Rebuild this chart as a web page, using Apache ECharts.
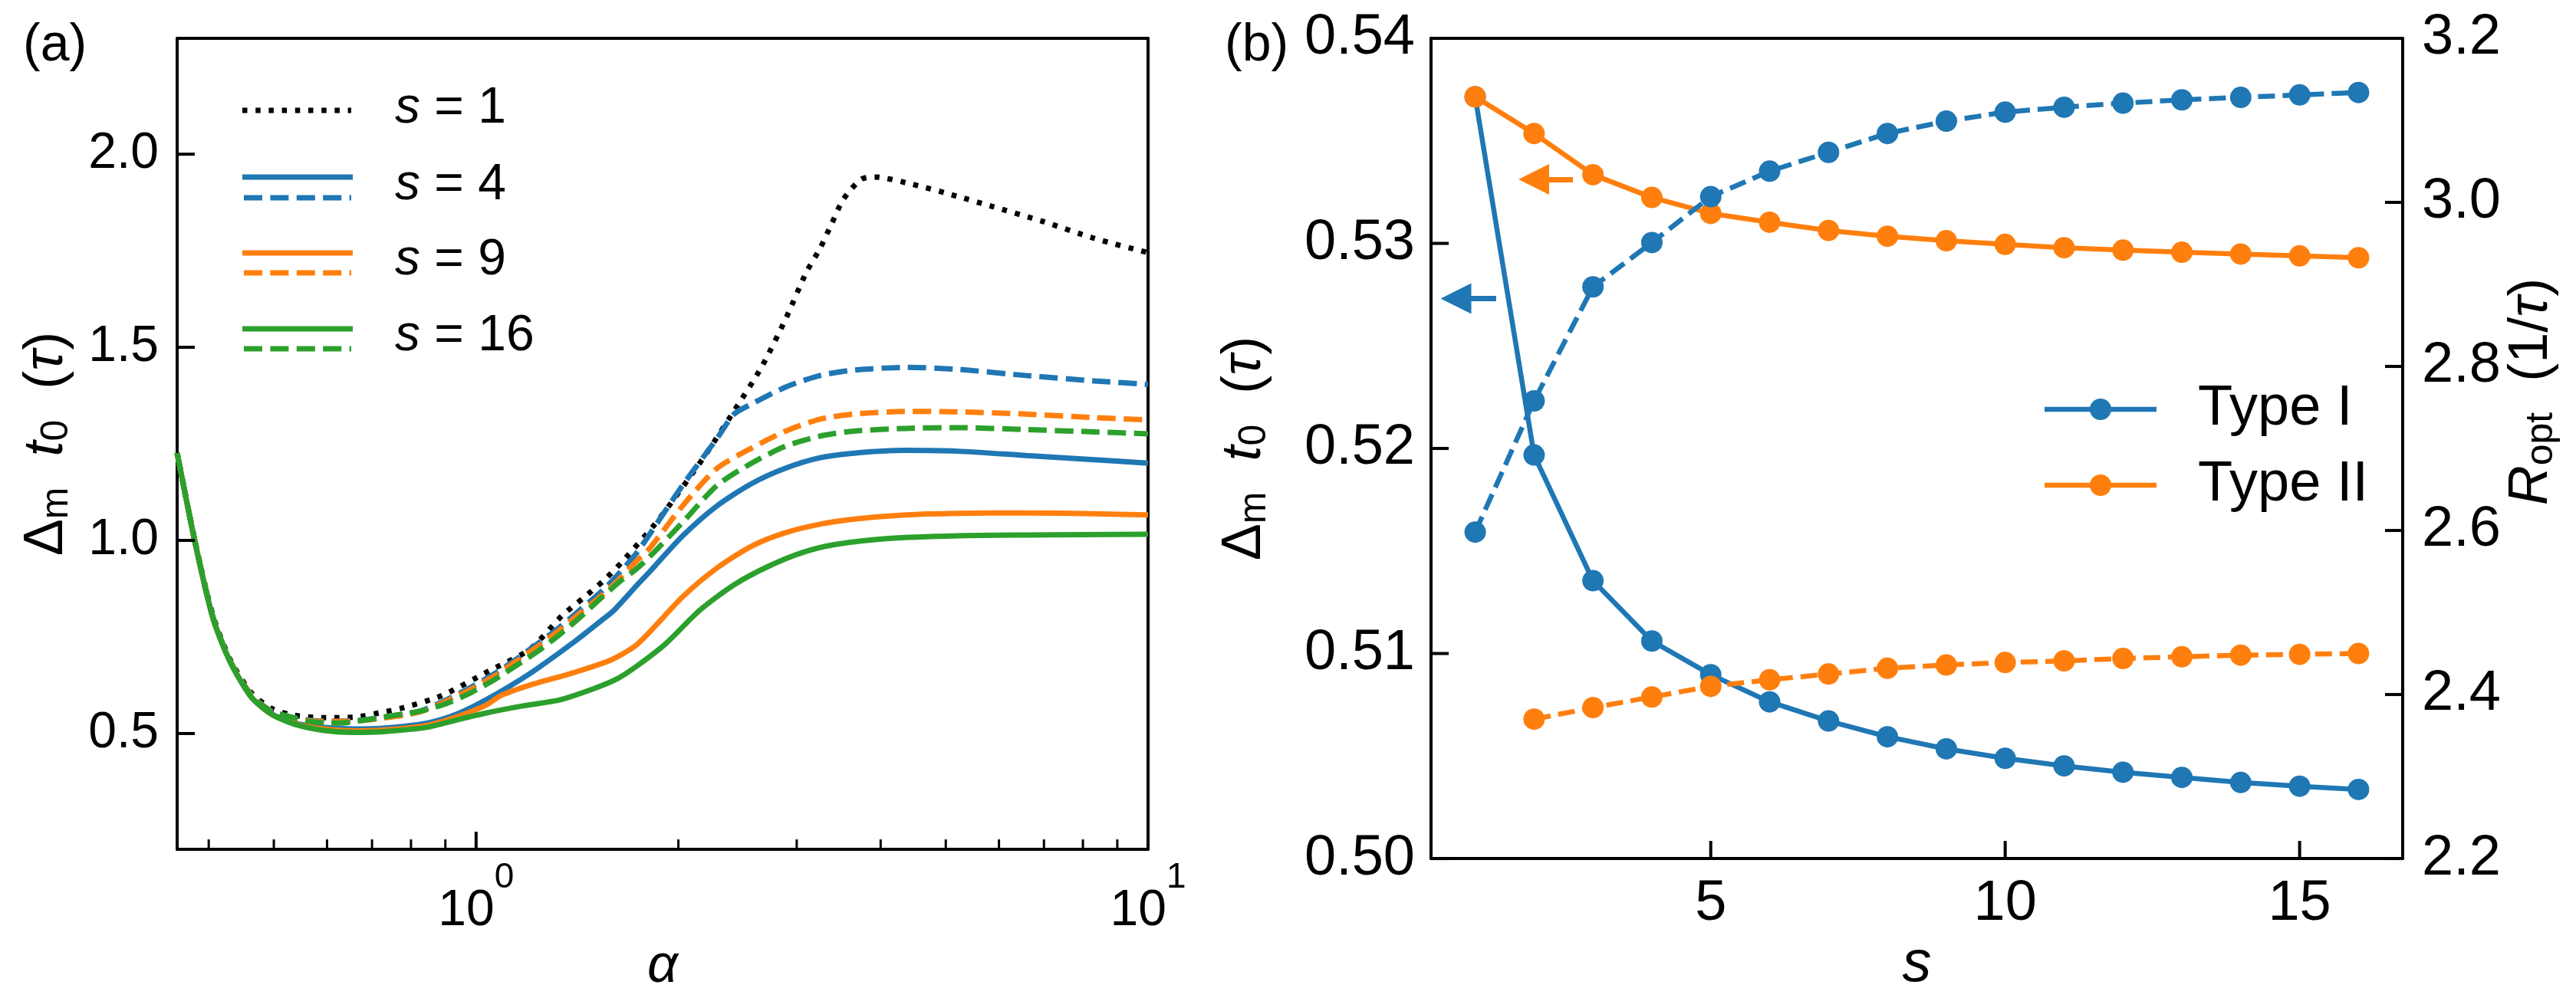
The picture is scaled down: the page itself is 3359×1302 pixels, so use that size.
<!DOCTYPE html>
<html>
<head>
<meta charset="utf-8">
<script src="https://cdn.jsdelivr.net/npm/echarts@6/dist/echarts.min.js"></script>
<style>
  html, body { margin: 0; padding: 0; background: #fff; }
  #main { width: 3359px; height: 1302px; }
</style>
</head>
<body>
<div id="main"></div>
<script>
// ---- panel (a): Delta_m t0 vs alpha (log x) ----
var s1Alpha = [0.359, 0.382, 0.406, 0.431, 0.463, 0.496, 0.537, 0.594, 0.657, 0.735, 0.773, 0.889, 1.045, 1.202, 1.342, 1.442, 1.548, 1.652, 1.871, 2.179, 2.42, 2.66, 2.888, 3.10, 3.25, 3.386, 3.52, 3.74, 3.92, 4.46, 5.20, 5.85, 6.97, 8.32, 10];
var s1Val = [1.226, 0.995, 0.805, 0.69, 0.605, 0.565, 0.547, 0.541, 0.542, 0.557, 0.565, 0.598, 0.662, 0.718, 0.805, 0.85, 0.896, 0.946, 1.055, 1.214, 1.335, 1.449, 1.573, 1.694, 1.756, 1.822, 1.883, 1.935, 1.941, 1.922, 1.891, 1.865, 1.826, 1.782, 1.745];

var s4Alpha = [0.359, 0.382, 0.406, 0.431, 0.463, 0.496, 0.537, 0.594, 0.657, 0.727, 0.845, 0.935, 1.034, 1.202, 1.399, 1.548, 1.606, 1.742, 1.806, 2.03, 2.285, 2.57, 2.888, 3.25, 3.65, 4.36, 5.2, 6.58, 8.32, 10];
var s4Val = [1.226, 0.992, 0.798, 0.684, 0.594, 0.551, 0.527, 0.516, 0.512, 0.514, 0.527, 0.550, 0.587, 0.655, 0.737, 0.797, 0.820, 0.887, 0.916, 1.012, 1.090, 1.147, 1.187, 1.214, 1.226, 1.233, 1.231, 1.220, 1.209, 1.200];

var s4dAlpha = [0.359, 0.382, 0.406, 0.431, 0.463, 0.496, 0.537, 0.594, 0.657, 0.727, 0.821, 0.898, 0.983, 1.066, 1.143, 1.24, 1.331, 1.428, 1.548, 1.627, 1.729, 1.806, 2.03, 2.285, 2.42, 2.57, 2.888, 3.25, 3.65, 4.36, 5.2, 6.58, 8.32, 10];
var s4dVal = [1.226, 0.993, 0.80, 0.686, 0.600, 0.558, 0.54, 0.532, 0.533, 0.542, 0.557, 0.585, 0.62, 0.655, 0.69, 0.735, 0.775, 0.82, 0.873, 0.912, 0.965, 1.012, 1.143, 1.265, 1.327, 1.353, 1.397, 1.427, 1.441, 1.448, 1.443, 1.427, 1.413, 1.404];

var s9Alpha = [0.359, 0.382, 0.406, 0.431, 0.463, 0.496, 0.537, 0.594, 0.657, 0.727, 0.845, 0.935, 1.034, 1.088, 1.202, 1.399, 1.595, 1.742, 2.03, 2.285, 2.57, 2.888, 3.25, 3.65, 4.36, 5.2, 6.58, 8.32, 10];
var s9Val = [1.226, 0.992, 0.798, 0.684, 0.594, 0.550, 0.525, 0.512, 0.507, 0.509, 0.521, 0.543, 0.573, 0.598, 0.625, 0.658, 0.692, 0.733, 0.854, 0.929, 0.985, 1.020, 1.042, 1.055, 1.066, 1.070, 1.071, 1.069, 1.066];

var s9dAlpha = [0.359, 0.382, 0.406, 0.431, 0.463, 0.496, 0.537, 0.594, 0.657, 0.727, 0.821, 0.898, 0.983, 1.066, 1.143, 1.24, 1.331, 1.428, 1.548, 1.627, 1.729, 1.806, 2.03, 2.285, 2.57, 2.888, 3.25, 3.65, 4.36, 5.2, 6.58, 8.32, 10];
var s9dVal = [1.226, 0.993, 0.80, 0.686, 0.600, 0.557, 0.538, 0.531, 0.532, 0.540, 0.555, 0.582, 0.615, 0.65, 0.685, 0.728, 0.768, 0.812, 0.862, 0.897, 0.945, 0.976, 1.090, 1.187, 1.239, 1.283, 1.314, 1.327, 1.334, 1.333, 1.327, 1.318, 1.312];

var s16Alpha = [0.359, 0.382, 0.406, 0.431, 0.463, 0.496, 0.537, 0.594, 0.657, 0.727, 0.845, 0.935, 1.034, 1.179, 1.331, 1.501, 1.627, 1.742, 1.916, 2.155, 2.42, 2.724, 3.065, 3.44, 4.11, 5.2, 6.58, 10];
var s16Val = [1.226, 0.992, 0.798, 0.684, 0.594, 0.550, 0.524, 0.508, 0.503, 0.505, 0.516, 0.535, 0.553, 0.572, 0.587, 0.617, 0.643, 0.677, 0.733, 0.820, 0.885, 0.933, 0.969, 0.990, 1.005, 1.012, 1.014, 1.016];

var s16dAlpha = [0.359, 0.382, 0.406, 0.431, 0.463, 0.496, 0.511, 0.565, 0.625, 0.684, 0.749, 0.821, 0.898, 0.983, 1.066, 1.143, 1.24, 1.331, 1.428, 1.515, 1.627, 1.729, 1.806, 2.03, 2.285, 2.57, 2.888, 3.25, 3.65, 4.36, 5.2, 6.58, 8.32, 10];
var s16dVal = [1.226, 0.993, 0.80, 0.686, 0.598, 0.556, 0.550, 0.531, 0.527, 0.535, 0.546, 0.557, 0.576, 0.606, 0.640, 0.674, 0.715, 0.756, 0.801, 0.842, 0.89, 0.925, 0.955, 1.047, 1.143, 1.200, 1.244, 1.270, 1.283, 1.290, 1.292, 1.287, 1.281, 1.276];

var aMajorTicks = [1, 10];
var aMinorTicks = [0.4, 0.5, 0.6, 0.7, 0.8, 0.9, 2, 3, 4, 5, 6, 7, 8, 9];
var aYTicks = [0.5, 1.0, 1.5, 2.0];

// ---- panel (b): vs s ----
var sVals = [1, 2, 3, 4, 5, 6, 7, 8, 9, 10, 11, 12, 13, 14, 15, 16];
var type1Delta = [0.53715, 0.51968, 0.51355, 0.51061, 0.50897, 0.50764, 0.50671, 0.50594, 0.50535, 0.50489, 0.50452, 0.50421, 0.50396, 0.50371, 0.50353, 0.50337];
var type2Delta = [0.53715, 0.53536, 0.53335, 0.53224, 0.53146, 0.53103, 0.53063, 0.53035, 0.53013, 0.52995, 0.52979, 0.52967, 0.52957, 0.52948, 0.52939, 0.52930];
var type1R = [2.598, 2.758, 2.897, 2.951, 3.007, 3.038, 3.061, 3.084, 3.099, 3.110, 3.116, 3.121, 3.125, 3.128, 3.131, 3.134];
var type2S = [2, 3, 4, 5, 6, 7, 8, 9, 10, 11, 12, 13, 14, 15, 16];
var type2R = [2.370, 2.384, 2.397, 2.410, 2.418, 2.425, 2.432, 2.436, 2.439, 2.441, 2.444, 2.446, 2.448, 2.449, 2.450];
var bXTicks = [5, 10, 15];
var bLeftTicks = [0.50, 0.51, 0.52, 0.53, 0.54];
var bRightTicks = [2.2, 2.4, 2.6, 2.8, 3.0, 3.2];

var BLUE = '#1f77b4', ORANGE = '#ff7f0e', GREEN = '#2ca02c', BLACK = '#000';
var FONT = 'Liberation Sans, Arial, sans-serif';
var DASH = [24, 10.4], DOT = [6.5, 10.7];
var MAJOR = 23, MINOR = 13;

function zip(xs, ys) {
  return xs.map(function (x, i) { return [x, ys[i]]; });
}

function curve(name, xs, ys, color, dash) {
  return {
    name: name, type: 'line', xAxisIndex: 0, yAxisIndex: 0,
    data: zip(xs, ys), showSymbol: false, smooth: 0.25,
    lineStyle: { color: color, width: 7, type: dash, cap: 'butt' }
  };
}

// inward ticks, placed through the axes' own scales
function tickSeries(xIdx, yIdx, data, side) {
  return {
    type: 'custom', xAxisIndex: xIdx, yAxisIndex: yIdx, silent: true, clip: false, z: 5,
    data: data,
    renderItem: function (params, api) {
      var p = api.coord([api.value(0), api.value(1)]);
      var len = api.value(2), dx = 0, dy = 0;
      if (side === 'bottom') dy = -len;
      else if (side === 'left') dx = len;
      else dx = -len;
      return {
        type: 'line',
        shape: { x1: p[0], y1: p[1], x2: p[0] + dx, y2: p[1] + dy },
        style: { stroke: BLACK, lineWidth: len === MAJOR ? 4 : 3 }
      };
    }
  };
}

var axisLine = { show: true, lineStyle: { color: BLACK, width: 4 } };
var noTick = { show: false };

function frameAxis(extra) {
  return Object.assign({
    axisLine: axisLine, axisTick: noTick, axisLabel: { show: false }, splitLine: { show: false }
  }, extra);
}

var nameRich = {
  d: { fontFamily: FONT, fontSize: 72, color: BLACK },
  n: { fontFamily: FONT, fontSize: 72, color: BLACK },
  t: { fontFamily: FONT, fontSize: 72, fontStyle: 'italic', color: BLACK },
  sub: { fontFamily: FONT, fontSize: 50, color: BLACK, padding: [26, 0, 0, 0] }
};

function legendText(label, y) {
  return {
    type: 'text', x: 515, y: y,
    style: {
      text: '{i|s} = ' + label, fontFamily: FONT, fontSize: 66, fill: BLACK, verticalAlign: 'middle',
      rich: { i: { fontFamily: FONT, fontSize: 66, fontStyle: 'italic' } }
    }
  };
}

var chart = echarts.init(document.getElementById('main'));

var option = {
  animation: false,
  backgroundColor: '#fff',
  grid: [
    { left: 231, top: 50, width: 1266, height: 1072 },
    { left: 1866, top: 50, width: 1267, height: 1074 }
  ],
  xAxis: [
    {
      type: 'log', gridIndex: 0, min: 0.359, max: 10, logBase: 10,
      name: '{i|α}', nameLocation: 'middle', nameGap: 78,
      nameTextStyle: { rich: { i: { fontFamily: FONT, fontSize: 70, fontStyle: 'italic', color: BLACK } } },
      axisLine: axisLine, splitLine: { show: false }, axisTick: noTick,
      axisLabel: {
        customValues: aMajorTicks, margin: 14,
        formatter: function (v) { return '{b|10}{e|' + Math.round(Math.log10(v)) + '}'; },
        rich: {
          b: { fontFamily: FONT, fontSize: 66, color: BLACK, verticalAlign: 'bottom', lineHeight: 100 },
          e: { fontFamily: FONT, fontSize: 46, color: BLACK, verticalAlign: 'top', lineHeight: 50 }
        }
      }
    },
    {
      type: 'value', gridIndex: 1, min: 0.25, max: 16.75,
      name: '{i|s}', nameLocation: 'middle', nameGap: 98,
      nameTextStyle: { rich: { i: { fontFamily: FONT, fontSize: 76, fontStyle: 'italic', color: BLACK } } },
      axisLine: axisLine, splitLine: { show: false }, axisTick: noTick,
      axisLabel: { customValues: bXTicks, margin: 22, fontFamily: FONT, fontSize: 74, color: BLACK }
    },
    frameAxis({ type: 'log', gridIndex: 0, position: 'top', min: 0.359, max: 10, logBase: 10 }),
    frameAxis({ type: 'value', gridIndex: 1, position: 'top', min: 0.25, max: 16.75 })
  ],
  yAxis: [
    {
      type: 'value', gridIndex: 0, min: 0.2, max: 2.3,
      name: '{d|Δ}{sub|m}{n|  }{t|t}{sub|0}{n|  (}{t|τ}{n|)}',
      nameLocation: 'middle', nameGap: 132, nameRotate: 90,
      nameTextStyle: { rich: nameRich },
      axisLine: axisLine, splitLine: { show: false }, axisTick: noTick,
      axisLabel: {
        customValues: aYTicks, margin: 24, fontFamily: FONT, fontSize: 66, color: BLACK,
        formatter: function (v) { return v.toFixed(1); }
      }
    },
    {
      type: 'value', gridIndex: 1, min: 0.50, max: 0.54, interval: 0.01,
      name: '{d|Δ}{sub|m}{n|  }{t|t}{sub|0}{n|  (}{t|τ}{n|)}',
      nameLocation: 'middle', nameGap: 205, nameRotate: 90,
      nameTextStyle: { rich: nameRich },
      axisLine: axisLine, splitLine: { show: false }, axisTick: noTick,
      axisLabel: {
        customValues: bLeftTicks, margin: 21, fontFamily: FONT, fontSize: 74, color: BLACK,
        formatter: function (v) { return v.toFixed(2); }
      }
    },
    {
      type: 'value', gridIndex: 1, position: 'right', min: 2.2, max: 3.2, interval: 0.2,
      name: '{r|R}{sub|opt}{n|  (1/}{t|τ}{n|)}',
      nameLocation: 'middle', nameGap: 52, nameRotate: 90,
      nameTextStyle: {
        padding: [0, 0, 0, 148],
        rich: {
          r: { fontFamily: FONT, fontSize: 72, fontStyle: 'italic', color: BLACK },
          n: nameRich.n, t: nameRich.t, sub: nameRich.sub
        }
      },
      axisLine: axisLine, splitLine: { show: false }, axisTick: noTick,
      axisLabel: {
        customValues: bRightTicks, margin: 25, fontFamily: FONT, fontSize: 74, color: BLACK,
        formatter: function (v) { return v.toFixed(1); }
      }
    },
    frameAxis({ type: 'value', gridIndex: 0, position: 'right', min: 0.2, max: 2.3 })
  ],
  series: [
    curve('s1', s1Alpha, s1Val, BLACK, DOT),
    curve('s4', s4Alpha, s4Val, BLUE, 'solid'),
    curve('s4d', s4dAlpha, s4dVal, BLUE, DASH),
    curve('s9', s9Alpha, s9Val, ORANGE, 'solid'),
    curve('s9d', s9dAlpha, s9dVal, ORANGE, DASH),
    curve('s16', s16Alpha, s16Val, GREEN, 'solid'),
    curve('s16d', s16dAlpha, s16dVal, GREEN, DASH),
    {
      name: 'Type I', type: 'line', xAxisIndex: 1, yAxisIndex: 1,
      data: zip(sVals, type1Delta), symbol: 'circle', symbolSize: 28,
      itemStyle: { color: BLUE }, lineStyle: { color: BLUE, width: 6.5 },
      markLine: {
        silent: true, symbol: ['none', 'triangle'], symbolSize: 40,
        label: { show: false },
        lineStyle: { color: BLUE, width: 7, type: 'solid' },
        data: [[{ coord: [1.357, 0.52731] }, { coord: [0.673, 0.52731] }]]
      }
    },
    {
      name: 'Type II', type: 'line', xAxisIndex: 1, yAxisIndex: 1,
      data: zip(sVals, type2Delta), symbol: 'circle', symbolSize: 28,
      itemStyle: { color: ORANGE }, lineStyle: { color: ORANGE, width: 6.5 },
      markLine: {
        silent: true, symbol: ['none', 'triangle'], symbolSize: 40,
        label: { show: false },
        lineStyle: { color: ORANGE, width: 7, type: 'solid' },
        data: [[{ coord: [2.66, 0.53312] }, { coord: [1.995, 0.53312] }]]
      }
    },
    {
      name: 'Type I R', type: 'line', xAxisIndex: 1, yAxisIndex: 2,
      data: zip(sVals, type1R), symbol: 'circle', symbolSize: 28,
      itemStyle: { color: BLUE }, lineStyle: { color: BLUE, width: 6.5, type: [22, 10], cap: 'butt' }
    },
    {
      name: 'Type II R', type: 'line', xAxisIndex: 1, yAxisIndex: 2,
      data: zip(type2S, type2R), symbol: 'circle', symbolSize: 28,
      itemStyle: { color: ORANGE }, lineStyle: { color: ORANGE, width: 6.5, type: [22, 10], cap: 'butt' }
    },
    // axis ticks (inward)
    tickSeries(0, 0, aMajorTicks.map(function (v) { return [v, 0.2, MAJOR]; })
      .concat(aMinorTicks.map(function (v) { return [v, 0.2, MINOR]; })), 'bottom'),
    tickSeries(0, 0, aYTicks.map(function (v) { return [0.359, v, MAJOR]; }), 'left'),
    tickSeries(1, 1, bXTicks.map(function (v) { return [v, 0.50, MAJOR]; }), 'bottom'),
    tickSeries(1, 1, bLeftTicks.map(function (v) { return [0.25, v, MAJOR]; }), 'left'),
    tickSeries(1, 2, bRightTicks.map(function (v) { return [16.75, v, MAJOR]; }), 'right')
  ],
  graphic: [
    { type: 'text', x: 30, y: 26, style: { text: '(a)', fontFamily: FONT, fontSize: 68, fill: BLACK } },
    { type: 'text', x: 1597, y: 26, style: { text: '(b)', fontFamily: FONT, fontSize: 68, fill: BLACK } },
    // legend of panel (a)
    { type: 'line', shape: { x1: 316, y1: 144, x2: 458, y2: 144 }, style: { stroke: BLACK, lineWidth: 7, lineDash: DOT } },
    legendText('1', 142),
    { type: 'line', shape: { x1: 316, y1: 231, x2: 460, y2: 231 }, style: { stroke: BLUE, lineWidth: 7 } },
    { type: 'line', shape: { x1: 318, y1: 258, x2: 458, y2: 258 }, style: { stroke: BLUE, lineWidth: 7, lineDash: DASH } },
    legendText('4', 242),
    { type: 'line', shape: { x1: 316, y1: 330, x2: 460, y2: 330 }, style: { stroke: ORANGE, lineWidth: 7 } },
    { type: 'line', shape: { x1: 318, y1: 356, x2: 458, y2: 356 }, style: { stroke: ORANGE, lineWidth: 7, lineDash: DASH } },
    legendText('9', 340),
    { type: 'line', shape: { x1: 316, y1: 429, x2: 460, y2: 429 }, style: { stroke: GREEN, lineWidth: 7 } },
    { type: 'line', shape: { x1: 318, y1: 455, x2: 458, y2: 455 }, style: { stroke: GREEN, lineWidth: 7, lineDash: DASH } },
    legendText('16', 439),
    // legend of panel (b)
    { type: 'line', shape: { x1: 2666, y1: 534, x2: 2812, y2: 534 }, style: { stroke: BLUE, lineWidth: 6.5 } },
    { type: 'circle', shape: { cx: 2739, cy: 534, r: 14 }, style: { fill: BLUE } },
    { type: 'text', x: 2866, y: 534, style: { text: 'Type I', fontFamily: FONT, fontSize: 74, fill: BLACK, verticalAlign: 'middle' } },
    { type: 'line', shape: { x1: 2666, y1: 633, x2: 2812, y2: 633 }, style: { stroke: ORANGE, lineWidth: 6.5 } },
    { type: 'circle', shape: { cx: 2739, cy: 633, r: 14 }, style: { fill: ORANGE } },
    { type: 'text', x: 2866, y: 633, style: { text: 'Type II', fontFamily: FONT, fontSize: 74, fill: BLACK, verticalAlign: 'middle' } }
  ]
};

chart.setOption(option);
</script>
</body>
</html>
